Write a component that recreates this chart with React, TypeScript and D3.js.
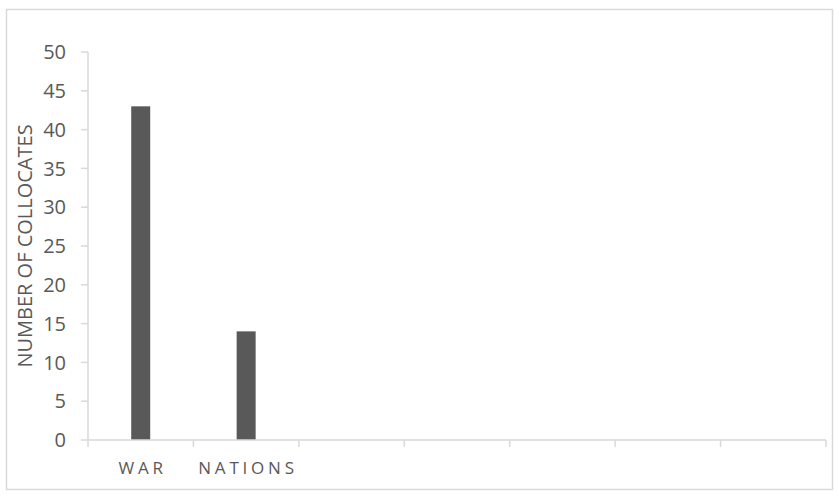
import React from "react";
import * as d3 from "d3";

const categories = ["WAR", "NATIONS", "", "", "", "", ""];
const values = [43, 14, null, null, null, null, null];
const yTicks = [0, 5, 10, 15, 20, 25, 30, 35, 40, 45, 50];
const yTitle = "NUMBER OF COLLOCATES";

export default function App() {
  const W = 839, H = 497;
  const left = 88, right = 826, top = 52, bottom = 440;
  const xb = d3.scaleBand<number>().domain(d3.range(categories.length)).range([left, right]);
  const y = d3.scaleLinear().domain([0, 50]).range([bottom, top]);
  const grid = "#d9d9d9";
  const txt = "#595959";
  const font = "'Open Sans', sans-serif";
  const ls = 3.8;
  return (
    <svg width={W} height={H} style={{ position: "absolute", left: 0, top: 0 }} fontFamily={font}>
      <rect x={0} y={0} width={W} height={H} fill="#fff" />
      <rect x={6.5} y={9.5} width={826} height={480} fill="none" stroke={grid} strokeWidth={1.5} />
      {values.map((v, i) =>
        v == null ? null : (
          <rect key={i} x={xb(i)! + xb.bandwidth() / 2 - 9.5} width={19} y={y(v)} height={y(0) - y(v)} fill="#595959" />
        )
      )}
      <line x1={left} x2={left} y1={top} y2={bottom} stroke={grid} strokeWidth={1.5} />
      <line x1={left} x2={right} y1={bottom} y2={bottom} stroke={grid} strokeWidth={1.5} />
      {yTicks.map((t) => (
        <g key={t}>
          <line x1={left - 7} x2={left} y1={y(t)} y2={y(t)} stroke={grid} strokeWidth={1.5} />
          <text x={66} y={y(t)} dy="0.36em" textAnchor="end" fontSize={20} fill={txt}>{t}</text>
        </g>
      ))}
      {d3.range(categories.length + 1).map((i) => {
        const xx = i < categories.length ? xb(i)! : right;
        return <line key={i} x1={xx} x2={xx} y1={bottom} y2={bottom + 7} stroke={grid} strokeWidth={1.5} />;
      })}
      {categories.map((c, i) => (
        <text key={i} x={xb(i)! + xb.bandwidth() / 2 + ls / 2} y={474} textAnchor="middle" fontSize={17} letterSpacing={ls} fill={txt}>{c}</text>
      ))}
      <text transform={`translate(32,${(top + bottom) / 2}) rotate(-90)`} textAnchor="middle" fontSize={20} fill={txt}>{yTitle}</text>
    </svg>
  );
}
